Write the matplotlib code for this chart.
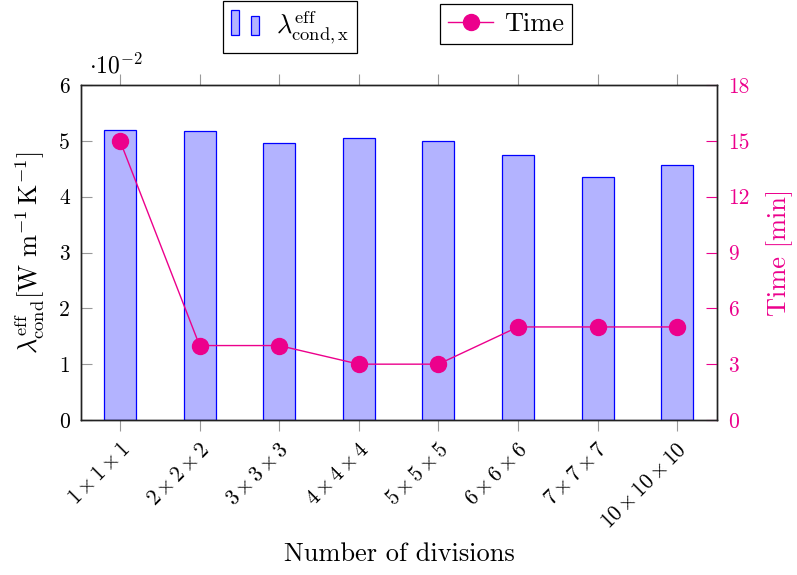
import matplotlib
matplotlib.use("Agg")
import matplotlib.pyplot as plt
from matplotlib.patches import Rectangle
from matplotlib.legend_handler import HandlerBase
from matplotlib.lines import Line2D
import numpy as np

categories = [r"$1\,{\times}\,1\,{\times}\,1$", r"$2\,{\times}\,2\,{\times}\,2$",
              r"$3\,{\times}\,3\,{\times}\,3$", r"$4\,{\times}\,4\,{\times}\,4$",
              r"$5\,{\times}\,5\,{\times}\,5$", r"$6\,{\times}\,6\,{\times}\,6$",
              r"$7\,{\times}\,7\,{\times}\,7$", r"$10\,{\times}\,10\,{\times}\,10$"]
lambda_vals = [5.19, 5.17, 4.96, 5.05, 4.99, 4.75, 4.36, 4.56]  # x 1e-2
time_vals = [15, 4, 4, 3, 3, 5, 5, 5]

plt.rcParams['font.family'] = 'serif'
plt.rcParams['font.serif'] = ['cmr10', 'DejaVu Serif']
plt.rcParams['mathtext.fontset'] = 'cm'
plt.rcParams['axes.unicode_minus'] = False

PINK = '#EC008C'
BARFILL = '#B3B3FF'
BAREDGE = '#0000FF'
GRAY = '#999999'
FS = 15.5
LFS = 19

fig = plt.figure(figsize=(7.97, 5.75), dpi=100)
ax = fig.add_axes([81/797, 1-420/575, (717-81)/797, (420-85)/575])
x = np.arange(len(categories))
ax.bar(x, lambda_vals, width=0.4, color=BARFILL, edgecolor=BAREDGE, linewidth=0.9, zorder=2)
ax.set_xlim(-0.49, 7.5)
ax.set_ylim(0, 6)
ax.set_yticks(range(0, 7))
ax.set_xticks(x)
ax.set_xticklabels(categories, rotation=45, ha='right', rotation_mode='anchor', fontsize=FS)
ax.tick_params(axis='x', which='both', direction='out', top=True, bottom=True,
               length=8, color=GRAY, width=0.8, labelsize=FS, pad=6)
ax.tick_params(axis='y', which='both', direction='in', left=True, right=False,
               length=8, color=GRAY, width=0.8, labelsize=FS, pad=8)
for s in ax.spines.values():
    s.set_linewidth(1.0)
    s.set_color('#222222')
ax.set_ylabel(r"$\lambda_{\mathrm{cond}}^{\mathrm{eff}}[\mathrm{W\ m^{-1}\,K^{-1}}]$", fontsize=LFS)
ax.yaxis.label.set_va('center')
ax.yaxis.set_label_coords(-0.080, 0.5)
ax.set_xlabel("Number of divisions", fontsize=LFS)
ax.xaxis.label.set_va('center')
ax.xaxis.set_label_coords(0.5, -0.4)
ax.text(0.012, 1.02, r"$\cdot 10^{-2}$", transform=ax.transAxes, fontsize=17, ha='left', va='bottom')

ax2 = ax.twinx()
ax2.plot(x, time_vals, color=PINK, linewidth=1.0, marker='o', markersize=11.5,
         markerfacecolor=PINK, markeredgecolor=PINK, zorder=3)
ax2.set_ylim(0, 18)
ax2.set_yticks(range(0, 19, 3))
ax2.tick_params(axis='y', direction='in', length=8, color=PINK, width=0.8,
                labelcolor=PINK, labelsize=FS, pad=8)
ax2.set_ylabel("Time [min]", color=PINK, fontsize=LFS)
ax2.yaxis.label.set_va('center')
ax2.yaxis.set_label_coords(1.099, 0.5)
for s in ax2.spines.values():
    s.set_linewidth(1.0)
    s.set_color('#222222')


class BarHandler(HandlerBase):
    def create_artists(self, legend, orig_handle, xdescent, ydescent, width, height, fontsize, trans):
        bw = width * 0.25
        r1 = Rectangle((-xdescent + width*0.0, -ydescent - height*0.1), bw, height*1.35,
                       facecolor=BARFILL, edgecolor=BAREDGE, linewidth=0.9, transform=trans)
        r2 = Rectangle((-xdescent + width*0.62, -ydescent - height*0.1), bw, height*1.05,
                       facecolor=BARFILL, edgecolor=BAREDGE, linewidth=0.9, transform=trans)
        return [r1, r2]

bar_handle = Rectangle((0, 0), 1, 1)
leg1 = fig.legend([bar_handle], [r"$\lambda_{\mathrm{cond,x}}^{\mathrm{eff}}$"],
                  handler_map={Rectangle: BarHandler()},
                  loc='center', bbox_to_anchor=(290/797, 1-27/575), fontsize=LFS,
                  frameon=True, fancybox=False, edgecolor='black', framealpha=1,
                  handlelength=1.2, handletextpad=0.5, borderpad=0.3)
leg1.get_frame().set_linewidth(0.9)
line_handle = Line2D([], [], color=PINK, linewidth=1.0, marker='o', markersize=11.5,
                     markerfacecolor=PINK, markeredgecolor=PINK)
leg2 = fig.legend([line_handle], ["Time"], loc='center', bbox_to_anchor=(506/797, 1-24/575),
                  fontsize=LFS, frameon=True, fancybox=False, edgecolor='black', framealpha=1,
                  handlelength=1.7, handletextpad=0.4, borderpad=0.3)
leg2.get_frame().set_linewidth(0.9)

fig.savefig("out.png", dpi=100)
